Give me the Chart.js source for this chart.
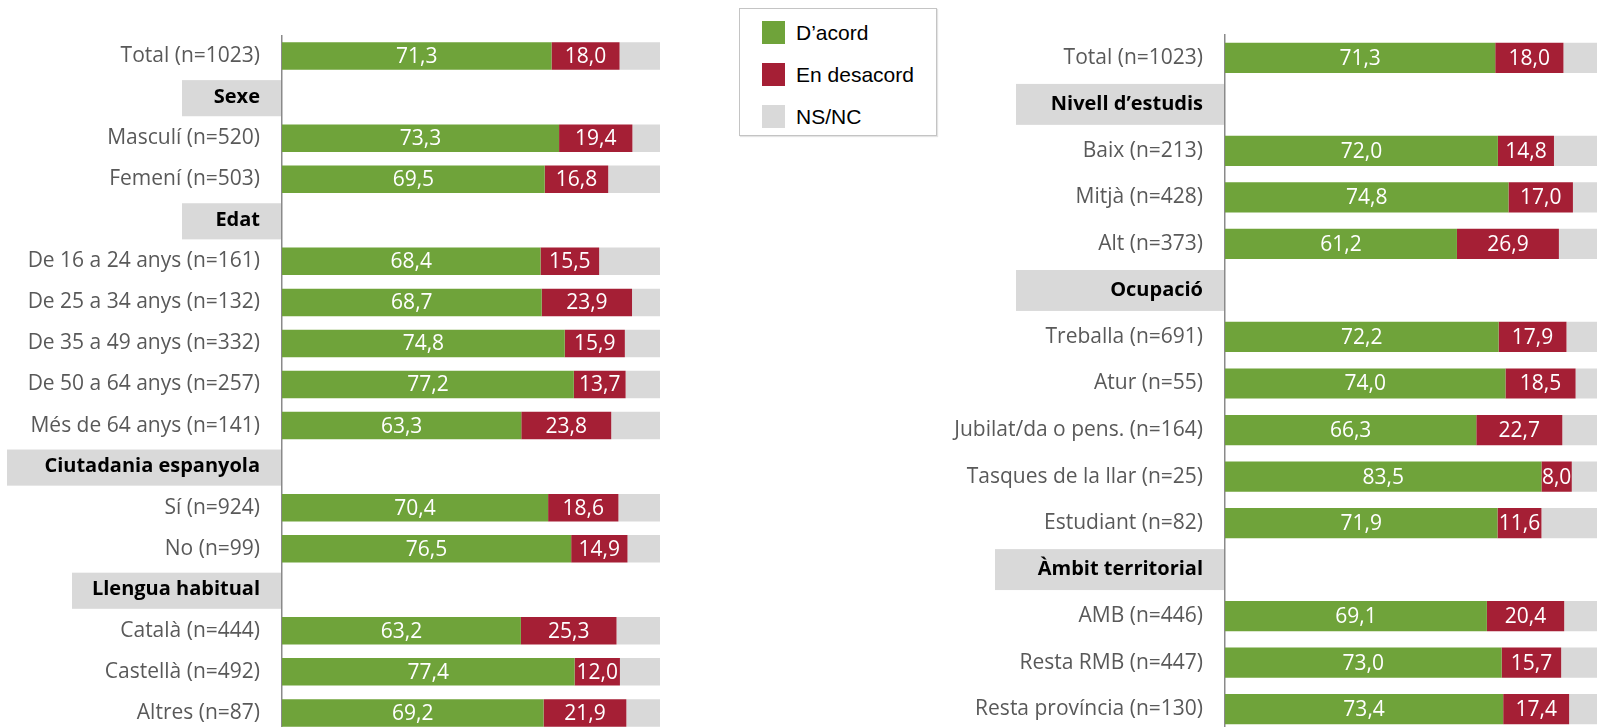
<!DOCTYPE html>
<html>
<head>
<meta charset="utf-8">
<script src="https://cdn.jsdelivr.net/npm/chart.js@4.4.1/dist/chart.umd.min.js"></script>
<style>
  html, body { margin: 0; padding: 0; background: #fff; }
  body { width: 1597px; height: 727px; overflow: hidden; position: relative; }
  .wrap { position: absolute; top: 0; }
  #leftWrap { left: 0; top: 1px; }
  #rightWrap { left: 943px; }
  #legend {
    position: absolute; left: 739px; top: 8px; width: 196px; height: 126px;
    border: 1.5px solid #c4c4c4; box-shadow: 1px 1px 1px #e4e4e4;
    font-family: 'Liberation Sans', Arial, sans-serif; font-size: 21px; color: #000;
  }
  #legend .item { position: absolute; left: 22px; height: 23px; display: flex; align-items: center; }
  #legend .sw { width: 23px; height: 23px; margin-right: 11px; }
</style>
</head>
<body>
<div class="wrap" id="leftWrap"><canvas id="leftChart" width="660" height="767" style="width:660px;height:767px"></canvas></div>
<div id="legend"></div>
<div class="wrap" id="rightWrap"><canvas id="rightChart" width="661" height="767" style="width:661px;height:767px"></canvas></div>
<script>
// Series
const seriesNames = ['D\u2019acord', 'En desacord', 'NS/NC']
const seriesColors = ['#6fa33a', '#a51f35', '#d9d9d9']

// Left panel
const leftLabels = [
  'Total (n=1023)',
  'Sexe',
  'Masculí (n=520)',
  'Femení (n=503)',
  'Edat',
  'De 16 a 24 anys (n=161)',
  'De 25 a 34 anys (n=132)',
  'De 35 a 49 anys (n=332)',
  'De 50 a 64 anys (n=257)',
  'Més de 64 anys (n=141)',
  'Ciutadania espanyola',
  'Sí (n=924)',
  'No (n=99)',
  'Llengua habitual',
  'Català (n=444)',
  'Castellà (n=492)',
  'Altres (n=87)'
]
const leftHeaders = ['Sexe', 'Edat', 'Ciutadania espanyola', 'Llengua habitual']
const leftAcord = [71.3, null, 73.3, 69.5, null, 68.4, 68.7, 74.8, 77.2, 63.3, null, 70.4, 76.5, null, 63.2, 77.4, 69.2]
const leftDesacord = [18.0, null, 19.4, 16.8, null, 15.5, 23.9, 15.9, 13.7, 23.8, null, 18.6, 14.9, null, 25.3, 12.0, 21.9]
const leftNsnc = [10.7, null, 7.3, 13.7, null, 16.1, 7.4, 9.3, 9.1, 12.9, null, 11.0, 8.6, null, 11.5, 10.6, 8.9]

// Right panel
const rightLabels = [
  'Total (n=1023)',
  'Nivell d\u2019estudis',
  'Baix (n=213)',
  'Mitjà (n=428)',
  'Alt (n=373)',
  'Ocupació',
  'Treballa (n=691)',
  'Atur (n=55)',
  'Jubilat/da o pens. (n=164)',
  'Tasques de la llar (n=25)',
  'Estudiant (n=82)',
  'Àmbit territorial',
  'AMB (n=446)',
  'Resta RMB (n=447)',
  'Resta província (n=130)'
]
const rightHeaders = ['Nivell d\u2019estudis', 'Ocupació', 'Àmbit territorial']
const rightAcord = [71.3, null, 72.0, 74.8, 61.2, null, 72.2, 74.0, 66.3, 83.5, 71.9, null, 69.1, 73.0, 73.4]
const rightDesacord = [18.0, null, 14.8, 17.0, 26.9, null, 17.9, 18.5, 22.7, 8.0, 11.6, null, 20.4, 15.7, 17.4]
const rightNsnc = [10.7, null, 13.2, 8.2, 11.9, null, 9.9, 7.5, 11.0, 8.5, 16.5, null, 10.5, 11.3, 9.2]

// widths of the grey header cells (style only)
const headerBoxWidth = {
  'Sexe': 99, 'Edat': 99, 'Ciutadania espanyola': 274, 'Llengua habitual': 209,
  'Nivell d\u2019estudis': 208, 'Ocupació': 208, 'Àmbit territorial': 229
}

Chart.defaults.font.family = "'Open Sans', sans-serif"

// grey boxes behind the group titles
const headerBoxes = {
  id: 'headerBoxes',
  beforeDraw(chart, args, opts) {
    const ctx = chart.ctx
    const y = chart.scales.y
    const step = (chart.chartArea.bottom - chart.chartArea.top) / chart.data.labels.length
    ctx.save()
    ctx.fillStyle = '#d9d9d9'
    chart.data.labels.forEach((label, i) => {
      if (!opts.headers.includes(label)) return
      const cy = y.getPixelForValue(i) + opts.shift
      const h = step * 0.88
      const w = headerBoxWidth[label]
      ctx.fillRect(chart.chartArea.left - 1 - w, cy - h / 2, w, h)
    })
    ctx.restore()
  }
}

// value labels inside the green and red segments
const valueLabels = {
  id: 'valueLabels',
  afterDatasetsDraw(chart) {
    const ctx = chart.ctx
    ctx.save()
    ctx.font = "21px 'Open Sans', sans-serif"
    ctx.fillStyle = '#ffffff'
    ctx.textAlign = 'center'
    ctx.textBaseline = 'middle'
    for (let d = 0; d < 2; d++) {
      const meta = chart.getDatasetMeta(d)
      meta.data.forEach((bar, i) => {
        const v = chart.data.datasets[d].data[i]
        if (v == null) return
        ctx.fillText(v.toFixed(1).replace('.', ','), (bar.x + bar.base) / 2, bar.y + 1)
      })
    }
    ctx.restore()
  }
}

function makeChart(id, labels, headers, acord, desacord, nsnc, barPct, shift) {
  const values = [acord, desacord, nsnc]
  const datasets = seriesNames.map((name, k) => ({
    label: name,
    data: values[k],
    backgroundColor: seriesColors[k],
    borderWidth: 0,
    barPercentage: barPct,
    categoryPercentage: 1
  }))

  new Chart(document.getElementById(id), {
    type: 'bar',
    data: { labels: labels, datasets: datasets },
    plugins: [headerBoxes, valueLabels],
    options: {
      indexAxis: 'y',
      responsive: false,
      animation: false,
      // the tick padding already adds ~35px above and below the plot
      layout: { padding: { top: 0, bottom: 0, left: 0, right: 0 } },
      plugins: {
        legend: { display: false },
        tooltip: { enabled: false },
        headerBoxes: { headers: headers, shift: shift }
      },
      scales: {
        x: {
          stacked: true,
          min: 0,
          max: 100,
          display: false
        },
        y: {
          stacked: true,
          afterFit(scale) { scale.width = 282 },
          grid: { display: false, drawTicks: false },
          border: { display: true, color: '#8a8a8a', width: 1.5 },
          ticks: {
            padding: 22,
            autoSkip: false,
            color: (c) => headers.includes(labels[c.index]) ? '#000000' : '#595959',
            font: (c) => headers.includes(labels[c.index])
              ? { size: 20, weight: 'bold' }
              : { size: 21, weight: 'normal' }
          }
        }
      }
    }
  })
}

makeChart('leftChart', leftLabels, leftHeaders, leftAcord, leftDesacord, leftNsnc, 0.67, 1)
makeChart('rightChart', rightLabels, rightHeaders, rightAcord, rightDesacord, rightNsnc, 0.65, 0)

// legend box between the panels
const legend = document.getElementById('legend')
seriesNames.forEach((name, k) => {
  const item = document.createElement('div')
  item.className = 'item'
  item.style.top = (12 + k * 42) + 'px'
  item.innerHTML = '<div class="sw" style="background:' + seriesColors[k] + '"></div><span>' + name + '</span>'
  legend.appendChild(item)
})
</script>
</body>
</html>
